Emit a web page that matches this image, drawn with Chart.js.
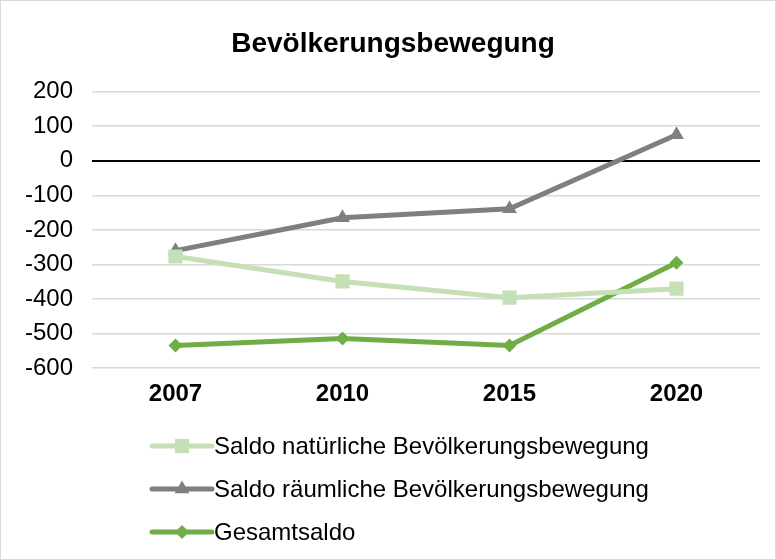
<!DOCTYPE html>
<html>
<head>
<meta charset="utf-8">
<script src="https://cdn.jsdelivr.net/npm/chart.js@4/dist/chart.umd.min.js"></script>
<style>
    html, body { margin: 0; padding: 0; background: #fff; }
    .frame {
        width: 776px;
        height: 560px;
        box-sizing: border-box;
        border: 1px solid #d9d9d9;
        position: relative;
    }
    canvas { display: block; }
</style>
</head>
<body>
<div class="frame"><canvas id="chart" width="774" height="558"></canvas></div>
<script>
const YEARS = ['2007', '2010', '2015', '2020'];

const SALDO_NATUERLICH = [-277, -349, -396, -370];
const SALDO_RAEUMLICH  = [-260, -165, -139, 75];
const GESAMTSALDO      = [-534, -514, -534, -295];

const SERIES_LABELS = [
    'Saldo natürliche Bevölkerungsbewegung',
    'Saldo räumliche Bevölkerungsbewegung',
    'Gesamtsaldo',
];

const Y_MIN  = -600;
const Y_MAX  = 200;
const Y_STEP = 100;

const FONT = "'Liberation Sans', Arial, sans-serif";

function series(label, data, color, style, radius) {
    return {
        label:                label,
        data:                 data,
        borderColor:          color,
        backgroundColor:      color,
        borderWidth:          5,
        pointStyle:           style,
        pointRadius:          radius,
        pointBackgroundColor: color,
        pointBorderColor:     color,
        pointBorderWidth:     0,
        tension:              0,
    };
}

// legend stacked vertically below the plot, like the office original
const stackedLegend = {
    id: 'stackedLegend',
    afterDraw(chart) {
        const ctx = chart.ctx;
        ctx.save();
        chart.data.datasets.forEach((ds, i) => {
            const y = 445 + i * 43;
            ctx.strokeStyle = ds.borderColor;
            ctx.lineWidth   = ds.borderWidth;
            ctx.lineCap     = 'round';
            ctx.beginPath();
            ctx.moveTo(151, y);
            ctx.lineTo(211, y);
            ctx.stroke();

            ctx.fillStyle = ds.backgroundColor;
            Chart.helpers.drawPoint(ctx, {
                pointStyle:  ds.pointStyle,
                radius:      ds.pointRadius,
                rotation:    0,
                borderWidth: 0,
            }, 181, y);

            ctx.fillStyle    = '#000';
            ctx.font         = '24px ' + FONT;
            ctx.textAlign    = 'left';
            ctx.textBaseline = 'middle';
            ctx.fillText(ds.label, 213, y + 1);
        });
        ctx.restore();
    },
};

new Chart(document.getElementById('chart'), {
    type: 'line',
    data: {
        labels: YEARS,
        datasets: [
            series(SERIES_LABELS[0], SALDO_NATUERLICH, '#c5e0b4', 'rect', 10),
            series(SERIES_LABELS[1], SALDO_RAEUMLICH,  '#7f7f7f', 'triangle', 8.5),
            series(SERIES_LABELS[2], GESAMTSALDO,      '#70ad47', 'rectRot', 7),
        ],
    },
    options: {
        responsive: false,
        animation:  false,
        layout: { padding: { left: 25, right: 15, top: 0, bottom: 138 } },
        plugins: {
            legend:  { display: false },
            tooltip: { enabled: false },
            title: {
                display: true,
                text:    'Bevölkerungsbewegung',
                color:   '#000',
                font:    { family: FONT, size: 28, weight: 'bold', lineHeight: 1.2 },
                padding: { top: 26, bottom: 31 },
            },
        },
        scales: {
            x: {
                offset: true,
                grid:   { display: false, drawTicks: false },
                border: { display: false },
                ticks: {
                    color:   '#000',
                    padding: 12,
                    font:    { family: FONT, size: 24, weight: 'bold' },
                },
            },
            y: {
                min: Y_MIN,
                max: Y_MAX,
                afterFit(scale) { scale.width = 66; },
                grid: {
                    drawTicks: false,
                    color:     c => c.tick.value === 0 ? '#000' : '#d9d9d9',
                    lineWidth: c => c.tick.value === 0 ? 2 : 1.5,
                },
                border: { display: false },
                ticks: {
                    stepSize: Y_STEP,
                    color:    '#000',
                    padding:  19,
                    font:     { family: FONT, size: 24 },
                },
            },
        },
    },
    plugins: [stackedLegend],
});
</script>
</body>
</html>
